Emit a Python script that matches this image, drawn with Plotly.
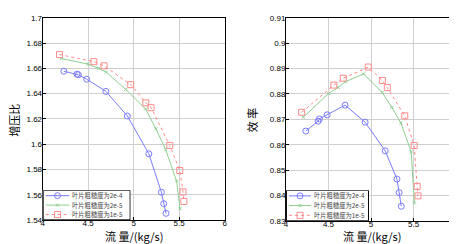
import plotly.graph_objects as go

# ---- data ----
flow_a = [4.233, 4.378, 4.393, 4.484, 4.695, 4.931, 5.167, 5.305, 5.331, 5.356]
pr_a   = [1.6577, 1.6554, 1.6549, 1.6514, 1.6418, 1.6223, 1.5924, 1.5620, 1.5529, 1.5453]
eff_a  = [0.8654, 0.8693, 0.8702, 0.8718, 0.8756, 0.8689, 0.8576, 0.8465, 0.8412, 0.8358]

flow_b = [4.204, 4.500, 4.615, 4.698, 4.913, 5.132, 5.245, 5.352, 5.472, 5.510]
pr_b   = [1.6678, 1.6633, 1.6600, 1.6570, 1.6433, 1.6278, 1.6122, 1.5957, 1.5709, 1.5489]
eff_b  = [0.8708, 0.8802, 0.8826, 0.8848, 0.8879, 0.8806, 0.8747, 0.8686, 0.8572, 0.8371]

flow_c = [4.185, 4.563, 4.675, 4.968, 5.134, 5.192, 5.397, 5.507, 5.543, 5.552]
pr_c   = [1.6709, 1.6653, 1.6620, 1.6471, 1.6327, 1.6289, 1.5990, 1.5792, 1.5623, 1.5547]
eff_c  = [0.8728, 0.8835, 0.8862, 0.8906, 0.8853, 0.8825, 0.8714, 0.8597, 0.8436, 0.8399]

names = ["叶片粗糙度为2e-4", "叶片粗糙度为2e-5", "叶片粗糙度为1e-5"]
x_ticks = [4, 4.5, 5, 5.5, 6]
pr_ticks = [1.54, 1.56, 1.58, 1.6, 1.62, 1.64, 1.66, 1.68, 1.7]
eff_ticks = [0.83, 0.84, 0.85, 0.86, 0.87, 0.88, 0.89, 0.9, 0.91]
x_title = "流 量/(kg/s)"
y_titles = ["增压比", "效 率"]

colors = ["#7b7bff", "#8fcf8f", "#ff8c8c"]
dashes = ["solid", "solid", "dot"]
symbols = ["circle-open", "x-thin-open", "square-open"]
sizes = [6, 3, 6]

W, H = 457, 244
def px(x):
    return x / W
def py(y):
    return (H - y) / H

fig = go.Figure()
series = [
    [(flow_a, pr_a), (flow_b, pr_b), (flow_c, pr_c)],
    [(flow_a, eff_a), (flow_b, eff_b), (flow_c, eff_c)],
]
axes = [("x", "y"), ("x2", "y2")]
for p, panel in enumerate(series):
    for i, (xs, ys) in enumerate(panel):
        fig.add_trace(go.Scatter(x=xs, y=ys, name=names[i], mode="lines+markers",
                                 showlegend=False,
                                 line=dict(color=colors[i], width=1, dash=dashes[i]),
                                 marker=dict(symbol=symbols[i], size=sizes[i], color=colors[i],
                                             line=dict(color=colors[i], width=1)),
                                 xaxis=axes[p][0], yaxis=axes[p][1]))

# ---- compact legends drawn on auxiliary axes (legend box coordinates 0..1) ----
leg_axes = [("x3", "y3"), ("x4", "y4")]
rows = [0.82, 0.5, 0.18]
for b in range(2):
    xa, ya = leg_axes[b]
    fig.add_trace(go.Scatter(x=[0, 1, 1, 0, 0], y=[0, 0, 1, 1, 0], mode="lines",
                             fill="toself", fillcolor="white", showlegend=False,
                             hoverinfo="skip", line=dict(color="black", width=1),
                             xaxis=xa, yaxis=ya))
    for i in range(3):
        fig.add_trace(go.Scatter(x=[0.03, 0.3], y=[rows[i], rows[i]], mode="lines",
                                 showlegend=False, hoverinfo="skip",
                                 line=dict(color=colors[i], width=1, dash=dashes[i]),
                                 xaxis=xa, yaxis=ya))
        fig.add_trace(go.Scatter(x=[0.165], y=[rows[i]], mode="markers",
                                 showlegend=False, hoverinfo="skip",
                                 marker=dict(symbol=symbols[i], size=sizes[i], color=colors[i],
                                             line=dict(color=colors[i], width=1)),
                                 xaxis=xa, yaxis=ya))
        fig.add_annotation(x=0.32, y=rows[i], xref=xa, yref=ya, text=names[i],
                           showarrow=False, xanchor="left", yanchor="middle", borderpad=0,
                           font=dict(family="Noto Sans CJK SC", size=6.3, color="#444"))

tickfont = dict(family="Liberation Sans, Arial", size=8, color="black")
titlefont = dict(family="Noto Sans CJK SC, Liberation Sans", size=11, color="black")
axis_common = dict(showline=True, linecolor="black", linewidth=1, mirror=True,
                   showgrid=True, gridcolor="#cfcfcf", gridwidth=1,
                   ticks="inside", ticklen=3, tickcolor="black",
                   tickfont=tickfont, zeroline=False)
hidden = dict(visible=False, range=[-0.006, 1.006], fixedrange=True)

fig.update_layout(
    width=W, height=H,
    margin=dict(l=0, r=0, t=0, b=0),
    paper_bgcolor="white", plot_bgcolor="white",
    showlegend=False,
    xaxis=dict(domain=[px(33), px(217)], range=[4, 6], tickvals=x_ticks,
               ticktext=[f"{v:g}" for v in x_ticks], anchor="y",
               ticklabelstandoff=-5, **axis_common),
    yaxis=dict(domain=[py(216), py(6)], range=[1.54, 1.7], tickvals=pr_ticks,
               ticktext=[f"{v:g}" for v in pr_ticks], anchor="x",
               ticklabelstandoff=-2, **axis_common),
    xaxis2=dict(domain=[px(279), px(451)], range=[4, 6], tickvals=x_ticks,
                ticktext=[f"{v:g}" for v in x_ticks], anchor="y2",
                ticklabelstandoff=-5, **axis_common),
    yaxis2=dict(domain=[py(217), py(6)], range=[0.83, 0.91], tickvals=eff_ticks,
                ticktext=[f"{v:g}" for v in eff_ticks], anchor="x2",
                ticklabelstandoff=-2, **axis_common),
    xaxis3=dict(domain=[px(33), px(122)], anchor="y3", **hidden),
    yaxis3=dict(domain=[py(216), py(185)], anchor="x3", **hidden),
    xaxis4=dict(domain=[px(279), px(363)], anchor="y4", **hidden),
    yaxis4=dict(domain=[py(217), py(185)], anchor="x4", **hidden),
)

# axis titles
for cx in (125, 366):
    fig.add_annotation(x=px(cx), y=py(232.5), xref="paper", yref="paper", text=x_title,
                       showarrow=False, xanchor="center", yanchor="middle", borderpad=0,
                       font=titlefont)
for cx, t in ((4, y_titles[0]), (245, y_titles[1])):
    fig.add_annotation(x=px(cx), y=py(112), xref="paper", yref="paper", text=t,
                       textangle=-90, showarrow=False, xanchor="center", yanchor="middle",
                       borderpad=0, font=titlefont)

fig.write_html("out.html")
